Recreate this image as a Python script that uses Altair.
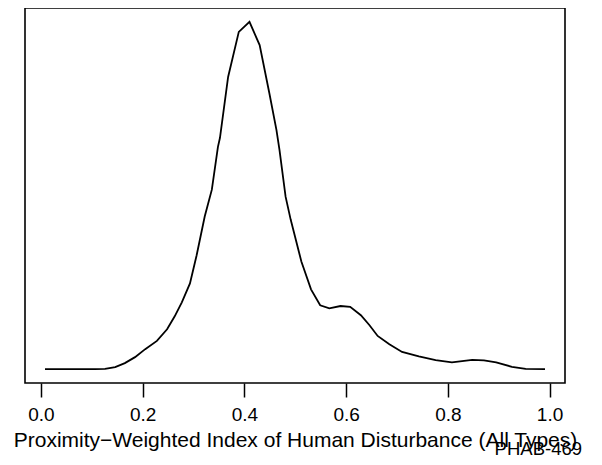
import altair as alt
import pandas as pd

# Density estimate (x: index value, y: density)
x_vals = [0.008, 0.028, 0.048, 0.067, 0.087, 0.106, 0.126, 0.146, 0.165, 0.185,
          0.205, 0.228, 0.248, 0.263, 0.277, 0.293, 0.306, 0.322, 0.336, 0.348,
          0.352, 0.368, 0.389, 0.410, 0.430, 0.449, 0.463, 0.469, 0.481, 0.491,
          0.512, 0.531, 0.549, 0.567, 0.589, 0.608, 0.629, 0.646, 0.662, 0.685,
          0.710, 0.743, 0.776, 0.808, 0.832, 0.848, 0.871, 0.895, 0.926, 0.953,
          0.991]
y_vals = [0.0, 0.0, 0.0, 0.0, 0.0, 0.0, 0.002, 0.027, 0.081, 0.162,
          0.270, 0.382, 0.540, 0.715, 0.904, 1.160, 1.538, 2.065, 2.429, 3.009,
          3.131, 3.954, 4.565, 4.700, 4.386, 3.738, 3.239, 2.969, 2.334, 2.024,
          1.457, 1.080, 0.864, 0.823, 0.854, 0.843, 0.729, 0.594, 0.449, 0.337,
          0.233, 0.171, 0.121, 0.090, 0.112, 0.125, 0.117, 0.090, 0.031, 0.004,
          0.001]

x_ticks = [0.0, 0.2, 0.4, 0.6, 0.8, 1.0]
x_title = "Proximity\u2212Weighted Index of Human Disturbance (All Types)"
note = "PHAB-469"

df = pd.DataFrame({"x": x_vals, "y": y_vals})

xr = max(x_vals) - min(x_vals)
yr = max(y_vals) - min(y_vals)
x_dom = [min(x_vals) - 0.04 * xr, max(x_vals) + 0.04 * xr]
y_dom = [min(y_vals) - 0.04 * yr, max(y_vals) + 0.04 * yr]

FONT = "Liberation Sans"

line = alt.Chart(df).mark_line(color="black", strokeWidth=1.8).encode(
    x=alt.X("x:Q",
            scale=alt.Scale(domain=x_dom, nice=False, zero=False),
            axis=alt.Axis(values=x_ticks, format=".1f", title=x_title,
                          domain=False, grid=False,
                          tickSize=14, tickWidth=1.5, tickColor="black",
                          labelFont=FONT, labelFontSize=19, labelColor="black",
                          labelPadding=8, labelFlush=False,
                          titleFont=FONT, titleFontSize=21, titleFontWeight="normal",
                          titleColor="black", titleBaseline="alphabetic",
                          titleY=63)),
    y=alt.Y("y:Q", scale=alt.Scale(domain=y_dom, nice=False, zero=False), axis=None),
)

label = alt.Chart(pd.DataFrame({"t": [note]})).mark_text(
    font=FONT, fontSize=18.5, color="black", align="right", baseline="alphabetic"
).encode(x=alt.value(557), y=alt.value(447), text="t:N")

chart = alt.layer(line, label).properties(
    width=540, height=375,
    padding={"left": 17, "top": 0, "right": 20, "bottom": 74},
    autosize=alt.AutoSizeParams(type="none"),
).configure(
    background="white",
    view=alt.ViewConfig(stroke="black", strokeWidth=1.6),
)

chart.save("out.html", embed_options={"renderer": "svg", "actions": False})
